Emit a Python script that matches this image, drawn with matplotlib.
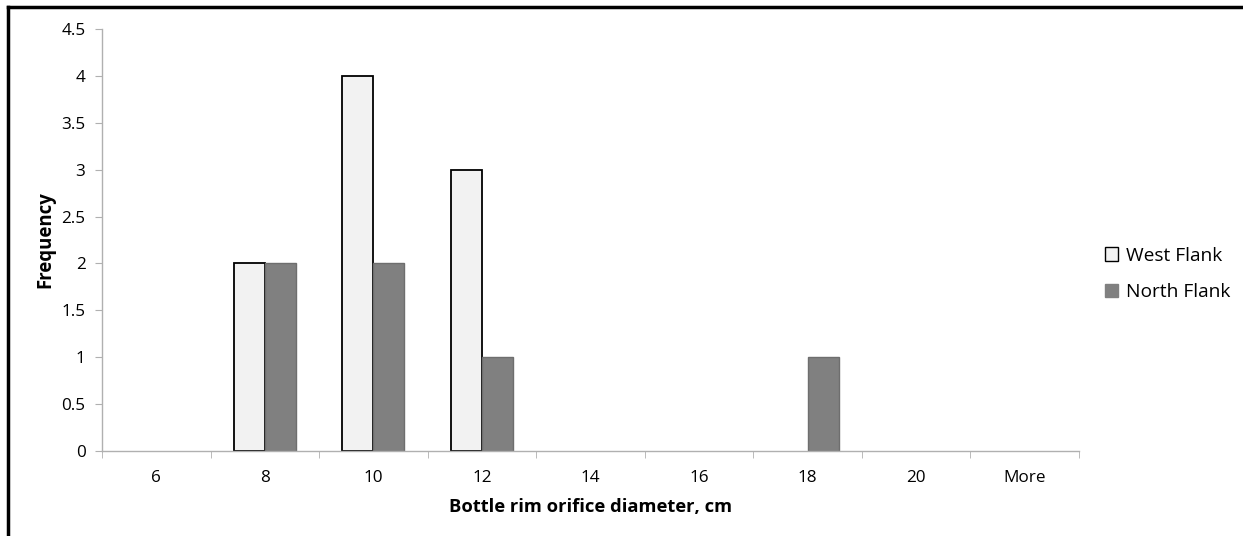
import numpy as np
from matplotlib import pyplot as plt
from matplotlib.patches import Patch
from matplotlib.lines import Line2D

plt.rcParams['font.family'] = ['Open Sans', 'DejaVu Sans']

bins = ["6", "8", "10", "12", "14", "16", "18", "20", "More"]
west_flank = [0, 2, 4, 3, 0, 0, 0, 0, 0]
north_flank = [0, 2, 2, 1, 0, 0, 1, 0, 0]

fig = plt.figure(figsize=(12.43, 5.36), dpi=100)
ax = fig.add_axes([0.0821, 0.1586, 0.7860, 0.7873])

x = np.arange(len(bins))
w = 1 / 3.5
# empty bins get no outline
ax.bar(x - w / 2, west_flank, w, color="#f2f2f2", edgecolor="black",
       linewidth=[1.3 if v else 0 for v in west_flank])
ax.bar(x + w / 2, north_flank, w, color="#808080", edgecolor="#6e6e6e",
       linewidth=[1.0 if v else 0 for v in north_flank])

ax.set_xlim(-0.5, len(bins) - 0.5)
ax.set_ylim(0, 4.5)
ax.set_yticks(np.arange(0, 4.51, 0.5))
ax.set_yticklabels(["0", "0.5", "1", "1.5", "2", "2.5", "3", "3.5", "4", "4.5"])
ax.set_xticks(x)
ax.set_xticklabels(bins)
ax.set_xticks(np.arange(-0.5, len(bins)), minor=True)

for s in ["top", "right"]:
    ax.spines[s].set_visible(False)
for s in ["left", "bottom"]:
    ax.spines[s].set_color("#b0b0b0")
    ax.spines[s].set_linewidth(1.0)

ax.tick_params(axis="y", length=5, color="#b0b0b0", labelsize=12.3, pad=7)
ax.tick_params(axis="x", which="major", length=0, labelsize=12.3, pad=13.5)
ax.tick_params(axis="x", which="minor", length=5, color="#b0b0b0")

ax.set_xlabel("Bottle rim orifice diameter, cm", fontsize=13.2, fontweight="bold", labelpad=9)
ax.set_ylabel("Frequency", fontsize=13.4, fontweight="bold", labelpad=4)

handles = [Patch(facecolor="#f2f2f2", edgecolor="black", linewidth=1.0, label="West Flank"),
           Patch(facecolor="#808080", edgecolor="#808080", label="North Flank")]
fig.legend(handles=handles, loc="center left", bbox_to_anchor=(0.889, 0.489), frameon=False,
           borderpad=0, borderaxespad=0, fontsize=13.8, handlelength=0.68, handleheight=0.68,
           handletextpad=0.4, labelspacing=0.95)

# outer frame, top and left only
fig.add_artist(Line2D([0.0068, 1.0], [0.9865, 0.9865], color="black", linewidth=2.5,
                      transform=fig.transFigure))
fig.add_artist(Line2D([0.0068, 0.0068], [0.0, 0.9865], color="black", linewidth=2.5,
                      transform=fig.transFigure))

fig.savefig("out.png", dpi=100)
